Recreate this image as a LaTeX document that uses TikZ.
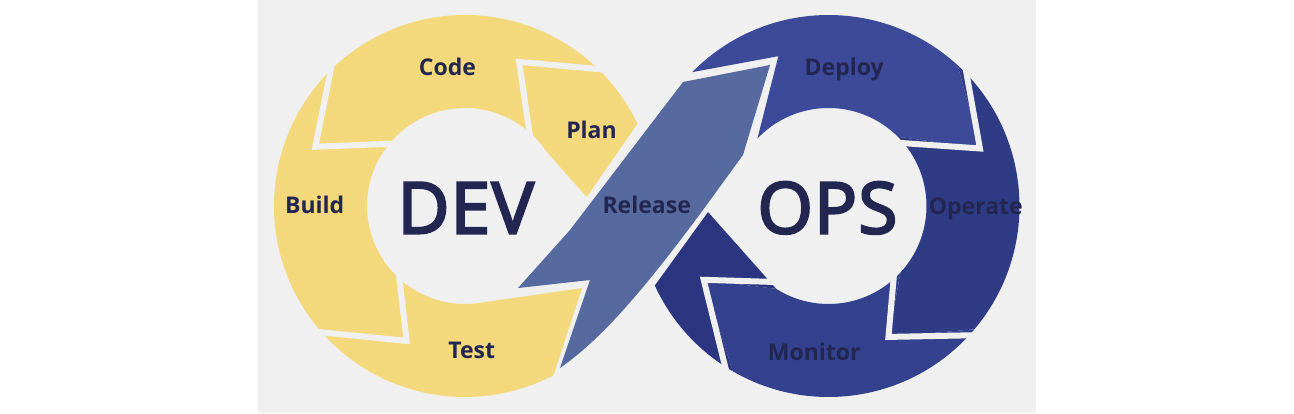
\documentclass[tikz,border=0pt]{standalone}
\usepackage{fontspec}
\setmainfont{Open Sans}
\newfontfamily\bigfont{Open Sans}[FakeBold=3.5,LetterSpace=2]
\usetikzlibrary{calc}
\definecolor{bg}{HTML}{EFF0EF}
\definecolor{yel}{HTML}{F3D87C}
\definecolor{rel}{HTML}{566A9F}
\definecolor{dep}{HTML}{3C4A99}
\definecolor{ope}{HTML}{2F3B85}
\definecolor{mon}{HTML}{34418F}
\definecolor{drk}{HTML}{2B3580}
\definecolor{txt}{HTML}{232650}
\begin{document}
\begin{tikzpicture}[x=1pt,y=1pt,
  cut/.style={draw=bg, line width=6pt, line join=miter},
  lbl/.style={text=txt, font=\fontsize{23}{23}\selectfont\bfseries, anchor=base, inner sep=0pt},
  big/.style={text=txt, font=\fontsize{71}{71}\selectfont\bigfont, anchor=base, inner sep=0pt}]
\useasboundingbox (0,0) rectangle (1294,413);
\fill[white] (0,0) rectangle (1294,413);
\fill[bg] (258,0) rectangle (1036,413);

% left ring (DEV)
\begin{scope}[shift={(465,207)}]
\fill[yel] (25.5:191) arc[start angle=25.5, end angle=297.6, radius=191]
  -- (-35:143) -- (-81.7:98) arc[start angle=278.3, end angle=34, radius=98]
  -- (4.2:122) -- cycle;
\draw[cut] (42.7:200) -- (69.4:154) -- (42.6:90);
\draw[cut] (131:200) -- (158.4:161) -- (135.9:90);
\draw[cut] (218.7:200) -- (246.6:147) -- (221.9:90);
\end{scope}

% right ring (OPS)
\begin{scope}[shift={(828.5,207)}]
\fill[dep] (135.5:191) arc[start angle=135.5, end angle=47.4, radius=191]
  -- (20.8:162) -- (45:98) arc[start angle=45, end angle=136.5, radius=98]
  -- (108.5:158) -- cycle;
\fill[ope] (47.4:191) arc[start angle=47.4, end angle=-40.2, radius=191]
  -- (-65.4:144) -- (-42.7:98) arc[start angle=-42.7, end angle=45, radius=98]
  -- (20.8:162) -- cycle;
\fill[mon] (-40.2:191) arc[start angle=-40.2, end angle=-120.1, radius=191]
  -- (-149.4:145) -- (-122.2:98) arc[start angle=-122.2, end angle=-42.7, radius=98]
  -- (-65.4:144) -- cycle;
\fill[drk] (-120.1:191) arc[start angle=-120.1, end angle=-155.4, radius=191]
  -- (182.9:120.6) -- (-122.2:98) -- (-149.4:145) -- cycle;
\draw[cut] (47.4:200) -- (20.8:162) -- (45:90);
\draw[cut] (-40.2:200) -- (-65.4:144) -- (-42.7:90);
\draw[cut] (-120.1:200) -- (-149.4:145) -- (-122.2:90);
\end{scope}

% Release band
\fill[rel, preaction={draw=bg, line width=6pt, line join=round}]
  (770,348) -- (743,258) -- (703,203) .. controls (640,118) and (600,73) .. (560,45)
  -- (590,133) -- (518,125) -- (570,183) -- (683,331) -- cycle;

% labels
\node[lbl] (code) at (447.5,337) {Code};
\node[lbl] (plan) at (591.5,274.7) {Plan};
\node[lbl] (build) at (314.7,199.7) {Build};
\node[lbl] (test) at (471.7,54.7) {Test};
\node[lbl] (release) at (646.7,199) {Release};
\node[lbl] (deploy) at (844.2,337) {Deploy};
\node[lbl] (operate) at (975.8,198) {Operate};
\node[lbl] (monitor) at (814.2,53) {Monitor};
\node[big] (dev) at (465.8,179.7) {DEV};
\node[big] (ops) at (827.5,179.7) {OPS};
\end{tikzpicture}
\end{document}
